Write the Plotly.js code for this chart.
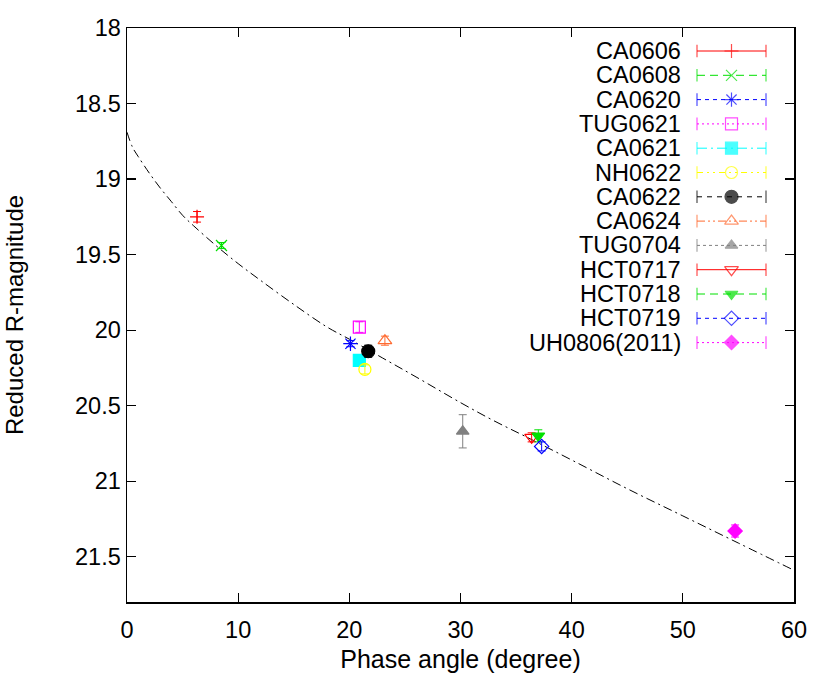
<!DOCTYPE html>
<html>
<head>
<meta charset="utf-8">
<script src="https://cdn.plot.ly/plotly-3.0.1.min.js"></script>
<style>html,body{margin:0;padding:0;background:#fff;}#chart{width:830px;height:680px;}</style>
</head>
<body>
<div id="chart"></div>
<script>
// ---- data ----
const names   = ["CA0606","CA0608","CA0620","TUG0621","CA0621","NH0622","CA0622","CA0624","TUG0704","HCT0717","HCT0718","HCT0719","UH0806(2011)"];
const phase   = [6.3, 8.5, 20.1, 20.9, 20.9, 21.4, 21.7, 23.2, 30.2, 36.4, 37.0, 37.3, 54.7];
const mag     = [19.25, 19.44, 20.09, 19.98, 20.20, 20.26, 20.14, 20.07, 20.67, 20.71, 20.70, 20.77, 21.33];
const magErr  = [0.035, 0.02, 0.02, 0.035, 0.02, 0.03, 0.04, 0.03, 0.11, 0.03, 0.04, 0.03, 0.04];
const colors  = ["#ff0000","#00e000","#0000ff","#ff00ff","#00ffff","#ffff00","#000000","#ff6a30","#808080","#ff0000","#00e000","#0000ff","#ff00ff"];
const symbols = ["cross-thin-open","x-thin-open","asterisk-open","square-open","square","circle-open","circle","triangle-up-open","triangle-up","triangle-down-open","triangle-down","diamond-open","diamond"];
const dashes  = ["solid","8px,5px","4px,4px","2px,3px","10px,4px,2px,4px","6px,4px,2px,4px,2px,4px","5px,5px","8px,3px,2px,3px,2px,3px","3px,3px","solid","8px,5px","4px,4px","2px,3px"];
// fitted phase curve
const curveX = [0, 0.5, 1, 2, 3, 4, 5, 6, 8, 10, 12, 15, 18, 20, 23, 26, 30, 33, 36, 40, 45, 50, 55, 60];
const curveY = [18.69, 18.79, 18.85, 18.96, 19.06, 19.15, 19.24, 19.31, 19.44, 19.56, 19.67, 19.83, 19.98, 20.06, 20.185, 20.31, 20.48, 20.60, 20.71, 20.86, 21.05, 21.23, 21.41, 21.59];

const FONT = "Liberation Sans, Arial, Helvetica, sans-serif";
const traces = [];
traces.push({x: curveX, y: curveY, mode: "lines", line: {color: "#000", width: 1, dash: "9px,4px,2px,4px", shape: "spline"}, hoverinfo: "skip"});

const sizes = [10, 11, 12, 12, 12, 12, 13, 12, 11, 12, 11, 11, 11];
for (let i = 0; i < names.length; i++) {
  traces.push({
    x: [phase[i]], y: [mag[i]], mode: "markers", name: names[i],
    marker: {symbol: symbols[i], size: sizes[i], color: colors[i], line: {color: colors[i], width: 1.2}},
    error_y: {type: "data", array: [magErr[i]], visible: true, color: colors[i], thickness: 1, width: 4}
  });
}

// ---- custom legend (text left, sample right, like gnuplot) ----
const annotations = [];
const row0 = 23, rowStep = 24.3, lx0 = 570, lx1 = 639, lxm = 604.5, textRight = 556;
for (let i = 0; i < names.length; i++) {
  const yy = row0 + rowStep * i;
  traces.push({
    x: [lx0, lxm, lx1], y: [yy, yy, yy], xaxis: "x2", yaxis: "y2", mode: "lines+markers",
    line: {color: colors[i], width: 1, dash: dashes[i]},
    marker: {symbol: ["line-ns-open", symbols[i], "line-ns-open"], size: [9, sizes[i], 9], color: colors[i], line: {color: colors[i], width: 1.2}},
    hoverinfo: "skip"
  });
  annotations.push({xref: "x2", yref: "y2", x: textRight, y: yy, text: names[i], showarrow: false, xanchor: "right", yanchor: "middle", font: {family: FONT, size: 23.5, color: "#000"}});
}

const axisCommon = {showline: true, linecolor: "#000", linewidth: 1.5, ticks: "inside", ticklen: 9, tickwidth: 1.2, tickcolor: "#000", mirror: "allticks", showgrid: false, zeroline: false, tickfont: {family: FONT, size: 23.5, color: "#000"}};

const layout = {
  width: 830, height: 680,
  margin: {l: 127, r: 36, t: 28, b: 78},
  paper_bgcolor: "#fff", plot_bgcolor: "#fff",
  showlegend: false,
  font: {family: FONT, size: 23.5, color: "#000"},
  xaxis: Object.assign({}, axisCommon, {range: [0, 60], dtick: 10, tick0: 0, ticklabelstandoff: 6,
    title: {text: "Phase angle (degree)", font: {family: FONT, size: 25, color: "#000"}, standoff: 9}}),
  yaxis: Object.assign({}, axisCommon, {range: [21.8, 18], dtick: 0.5, tick0: 18,
    title: {text: "Reduced R-magnitude", font: {family: FONT, size: 24, color: "#000"}, standoff: 44}}),
  xaxis2: {overlaying: "x", range: [0, 667], visible: false, fixedrange: true},
  yaxis2: {overlaying: "y", range: [574, 0], visible: false, fixedrange: true},
  annotations: annotations
};

Plotly.newPlot("chart", traces, layout, {displayModeBar: false, staticPlot: true});
</script>
</body>
</html>
